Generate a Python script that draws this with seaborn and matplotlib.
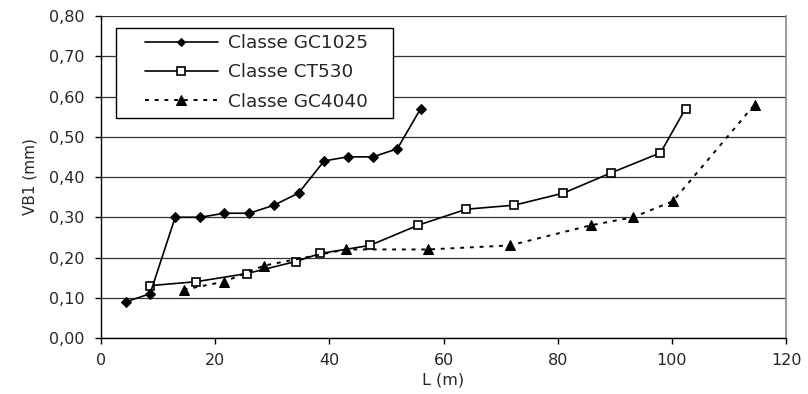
import matplotlib
matplotlib.use("Agg")
import matplotlib.pyplot as plt
import seaborn as sns
import pandas as pd
from matplotlib.patches import Rectangle
from matplotlib.ticker import FuncFormatter, MultipleLocator

# Data
gc1025_L = [4.4, 8.6, 13.0, 17.4, 21.6, 26.0, 30.3, 34.6, 39.1, 43.2, 47.6, 51.9, 56.0]
gc1025_VB = [0.09, 0.11, 0.30, 0.30, 0.31, 0.31, 0.33, 0.36, 0.44, 0.45, 0.45, 0.47, 0.57]
ct530_L = [8.5, 16.7, 25.5, 34.1, 38.4, 47.1, 55.5, 64.0, 72.4, 81.0, 89.3, 98.0, 102.4]
ct530_VB = [0.13, 0.14, 0.16, 0.19, 0.21, 0.23, 0.28, 0.32, 0.33, 0.36, 0.41, 0.46, 0.57]
gc4040_L = [14.5, 21.6, 28.6, 42.9, 57.3, 71.6, 85.8, 93.2, 100.2, 114.5]
gc4040_VB = [0.12, 0.14, 0.18, 0.22, 0.22, 0.23, 0.28, 0.30, 0.34, 0.58]
series_names = ["Classe GC1025", "Classe CT530", "Classe GC4040"]
x_label = "L (m)"
y_label = "VB1 (mm)"

sns.set_style("white")
plt.rcParams["font.family"] = ["DejaVu Sans"]

fig = plt.figure(figsize=(8.08, 3.94), dpi=100)
ax = fig.add_axes([0.125, 0.1421, 0.8478, 0.8173])

df1 = pd.DataFrame({"L": gc1025_L, "VB": gc1025_VB})
df2 = pd.DataFrame({"L": ct530_L, "VB": ct530_VB})
df3 = pd.DataFrame({"L": gc4040_L, "VB": gc4040_VB})

sns.lineplot(data=df1, x="L", y="VB", ax=ax, color="black", lw=1.2, marker="D",
             markersize=5, markerfacecolor="black", markeredgecolor="black",
             label=series_names[0], sort=False, zorder=4)
sns.lineplot(data=df2, x="L", y="VB", ax=ax, color="black", lw=1.2, marker="s",
             markersize=6.2, markerfacecolor="white", markeredgecolor="black",
             markeredgewidth=1.2, label=series_names[1], sort=False, zorder=3)
sns.lineplot(data=df3, x="L", y="VB", ax=ax, color="black", lw=1.4, marker="^",
             markersize=7.5, markerfacecolor="black", markeredgecolor="black",
             linestyle=(0, (2, 3)), label=series_names[2], sort=False, zorder=3)

ax.set_xlim(0, 120)
ax.set_ylim(0, 0.8)
ax.xaxis.set_major_locator(MultipleLocator(20))
ax.yaxis.set_major_locator(MultipleLocator(0.1))
ax.yaxis.set_major_formatter(FuncFormatter(lambda v, p: f"{v:.2f}".replace(".", ",")))

ax.yaxis.grid(True, color="#333333", lw=0.9)
ax.set_axisbelow(True)
for s in ["left", "bottom"]:
    ax.spines[s].set_color("black")
    ax.spines[s].set_linewidth(1.0)
ax.spines["right"].set_color("#888888")
ax.spines["top"].set_visible(False)
ax.spines["right"].set_linewidth(1.2)

ax.tick_params(axis="both", direction="out", length=4, width=1, color="black",
               labelsize=11.5, left=True, bottom=True)
ax.tick_params(axis="y", pad=8)
ax.tick_params(axis="x", pad=7)
ax.set_xlabel(x_label, fontsize=11.5, labelpad=3)
ax.set_ylabel(y_label, fontsize=11, labelpad=8)

# legend box (white frame) and legend entries
ax.add_patch(Rectangle((0.0219, 0.6832), 0.4044, 0.2795, transform=ax.transAxes,
                       facecolor="white", edgecolor="black", lw=1.0, zorder=5))
leg = ax.legend(loc="upper left", bbox_to_anchor=(0.0642, 0.944),
                borderaxespad=0, borderpad=0, frameon=False, fontsize=13.3,
                handlelength=3.95, labelspacing=0.62, handletextpad=0.55)
leg.set_zorder(6)
for h, ms in zip(leg.legend_handles, [4.5, 5.5, 7.5]):
    h.set_markersize(ms)

fig.savefig("out.png", dpi=100)
